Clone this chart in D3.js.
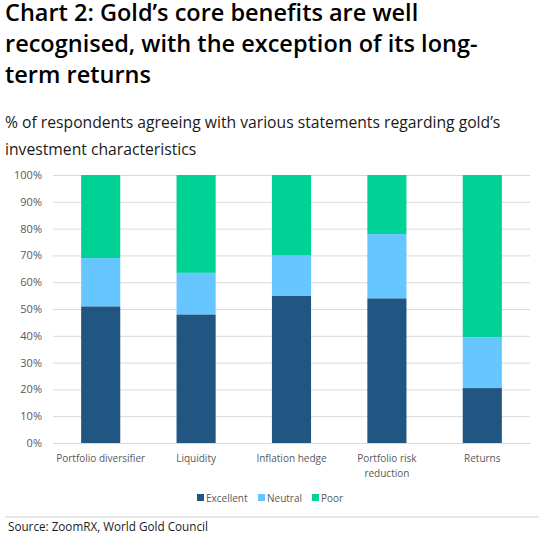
<!DOCTYPE html>
<html>
<head>
<meta charset="utf-8">
<script src="https://cdn.jsdelivr.net/npm/d3@7"></script>
<style>
  body { margin: 0; background: #fff; }
  text { font-family: "Open Sans", "Noto Sans", sans-serif; }
</style>
</head>
<body>
<svg width="539" height="538"></svg>
<script>
const categories = ['Portfolio diversifier', 'Liquidity', 'Inflation hedge', 'Portfolio risk reduction', 'Returns'];
const seriesNames = ['Excellent', 'Neutral', 'Poor'];
const excellent = [51, 48, 55, 54, 20.5];
const neutral = [18, 15.5, 15, 24, 19];
const poor = [31, 36.5, 30, 22, 60.5];
const yTicks = [0, 10, 20, 30, 40, 50, 60, 70, 80, 90, 100];
const colors = ['#215683', '#66c6ff', '#00d295'];

const svg = d3.select('svg');
const width = +svg.attr('width');
const height = +svg.attr('height');

const margin = { top: 175, right: 9, bottom: 95, left: 53 };
const innerWidth = width - margin.left - margin.right;
const innerHeight = height - margin.top - margin.bottom;

// title
const titleLines = ['Chart 2: Gold\u2019s core benefits are well',
  'recognised, with the exception of its long-', 'term returns'];
svg.selectAll('.title').data(titleLines).enter().append('text')
  .attr('class', 'title')
  .attr('x', 5)
  .attr('y', (d, i) => 21 + i * 31)
  .style('font-size', '23.5px')
  .style('font-weight', 600)
  .attr('fill', '#000')
  .text(d => d);

const subLines = ['% of respondents agreeing with various statements regarding gold\u2019s',
  'investment characteristics'];
svg.selectAll('.sub').data(subLines).enter().append('text')
  .attr('class', 'sub')
  .attr('x', 5)
  .attr('y', (d, i) => 128 + i * 27)
  .style('font-size', '15.7px')
  .attr('fill', '#1a1a1a')
  .text(d => d);

const table = categories.map((c, i) => ({
  category: c, Excellent: excellent[i], Neutral: neutral[i], Poor: poor[i]
}));
const stacked = d3.stack().keys(seriesNames)(table);

const xScale = d3.scaleBand()
  .domain(categories)
  .range([0, innerWidth])
  .paddingInner(0.59)
  .paddingOuter(0.295);

const yScale = d3.scaleLinear()
  .domain([0, 100])
  .range([innerHeight, 0]);

const g = svg.append('g')
  .attr('transform', `translate(${margin.left},${margin.top})`);

// gridlines
g.append('g')
  .call(d3.axisLeft(yScale).tickValues(yTicks).tickSize(-innerWidth).tickFormat(d => d + '%'))
  .call(a => a.select('.domain').remove())
  .call(a => a.selectAll('.tick line').attr('stroke', '#d9d9d9').attr('stroke-width', 1))
  .call(a => a.selectAll('.tick text')
    .attr('x', -11)
    .attr('fill', '#595959')
    .style('font-size', '11px')
    .style('font-family', '"Open Sans", "Noto Sans", sans-serif'));

g.selectAll('.series').data(stacked).enter().append('g')
  .attr('class', 'series')
  .attr('fill', (d, i) => colors[i])
  .selectAll('rect').data(d => d).enter().append('rect')
  .attr('x', d => xScale(d.data.category))
  .attr('y', d => yScale(d[1]))
  .attr('width', xScale.bandwidth())
  .attr('height', d => yScale(d[0]) - yScale(d[1]));

// x axis
const xAxisG = g.append('g')
  .attr('transform', `translate(0,${innerHeight})`)
  .call(d3.axisBottom(xScale).tickSize(0).tickFormat(''));
xAxisG.select('.domain').attr('stroke', '#d9d9d9');

const labelLines = {
  'Portfolio risk reduction': ['Portfolio risk', 'reduction']
};
categories.forEach(c => {
  const lines = labelLines[c] || [c];
  const t = g.append('text')
    .attr('x', xScale(c) + xScale.bandwidth() / 2)
    .attr('y', innerHeight + 19)
    .attr('text-anchor', 'middle')
    .attr('fill', '#595959')
    .style('font-size', '10px');
  lines.forEach((l, i) => {
    t.append('tspan')
      .attr('x', xScale(c) + xScale.bandwidth() / 2)
      .attr('dy', i === 0 ? 0 : 15)
      .text(l);
  });
});

// legend
const legendX = [197, 258, 312];
const legend = svg.append('g');
seriesNames.forEach((s, i) => {
  legend.append('rect')
    .attr('x', legendX[i])
    .attr('y', 494)
    .attr('width', 7)
    .attr('height', 7)
    .attr('fill', colors[i]);
  legend.append('text')
    .attr('x', legendX[i] + 9)
    .attr('y', 502)
    .attr('fill', '#595959')
    .style('font-size', '10px')
    .text(s);
});

// source
svg.append('line')
  .attr('x1', 5).attr('x2', 539)
  .attr('y1', 517).attr('y2', 517)
  .attr('stroke', '#d0d0d0');
svg.append('text')
  .attr('x', 8)
  .attr('y', 531)
  .attr('fill', '#1a1a1a')
  .style('font-size', '11.7px')
  .text('Source: ZoomRX, World Gold Council');
</script>
</body>
</html>
